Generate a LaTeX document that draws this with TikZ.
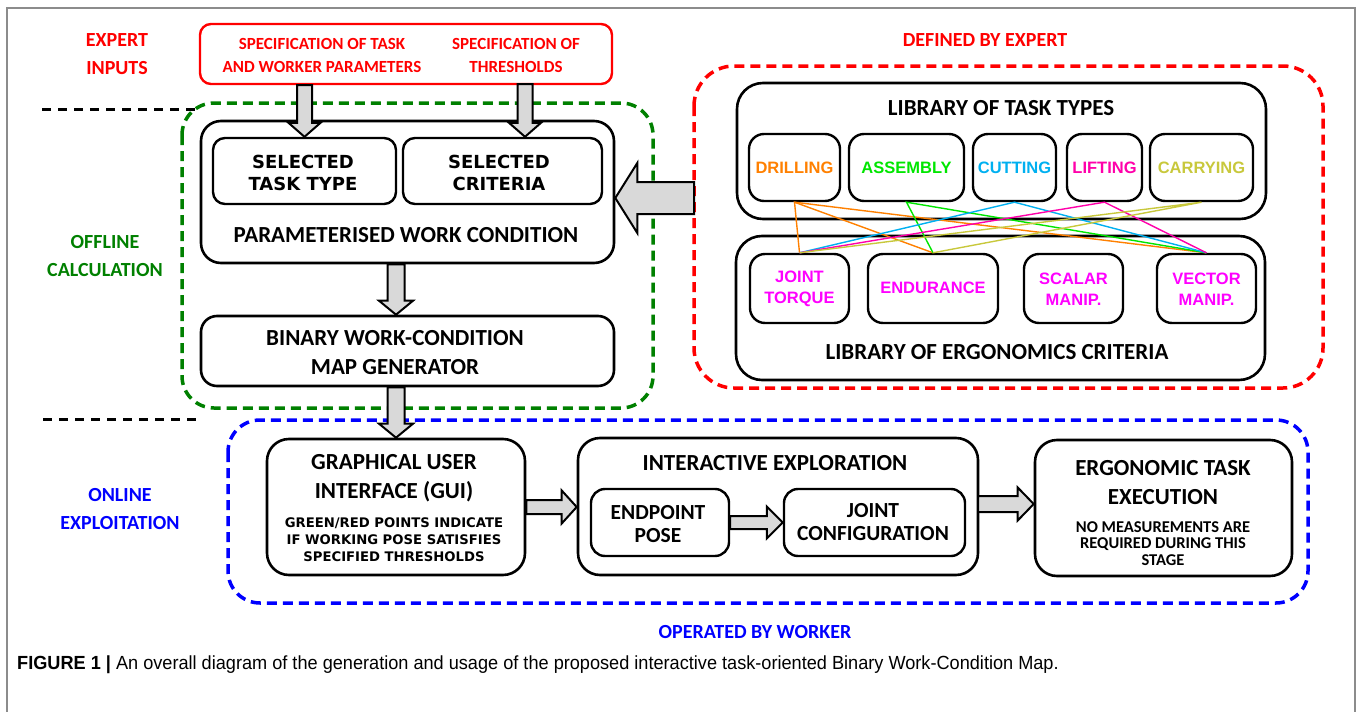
\documentclass[tikz,border=0pt]{standalone}
\usepackage{fontspec}
\setmainfont{Carlito}
\newfontfamily\verd{DejaVu Sans}
\newfontfamily\arl{Liberation Sans}
\newfontfamily\capf[FakeStretch=0.955]{Liberation Sans}
\usetikzlibrary{calc}
\definecolor{cOrange}{RGB}{255,128,0}
\definecolor{cGreen}{RGB}{0,230,0}
\definecolor{cBlue}{RGB}{0,176,240}
\definecolor{cPink}{RGB}{255,0,170}
\definecolor{cOlive}{RGB}{200,200,60}
\definecolor{cMag}{RGB}{255,0,255}
\definecolor{cRed}{RGB}{255,0,0}
\definecolor{cDGreen}{RGB}{0,128,0}
\definecolor{cDBlue}{RGB}{0,0,255}
\definecolor{cArrow}{RGB}{217,217,217}
\definecolor{cFrame}{RGB}{140,140,140}
\newcommand\blockarr[5]{%
  \coordinate (bah) at ($(#2)!#5!(#1)$);
  \draw[barr] ($(#1)!#3!90:(#2)$) -- ($(bah)!#3!-90:(#1)$) -- ($(bah)!#4!-90:(#1)$) -- (#2) -- ($(bah)!#4!90:(#1)$) -- ($(bah)!#3!90:(#1)$) -- ($(#1)!#3!-90:(#2)$) -- cycle;}
\begin{document}
\begin{tikzpicture}[x=1pt,y=-1pt,
  box/.style={draw, line width=2.6pt, rounded corners=16pt, inner sep=0pt},
  sbox/.style={draw, line width=2.4pt, rounded corners=12pt, inner sep=0pt},
  dbox/.style={line width=3.5pt, dash pattern=on 10pt off 6pt, rounded corners=32pt},
  sepline/.style={line width=3pt, dash pattern=on 9pt off 7pt},
  barr/.style={draw=black, fill=cArrow, line width=2pt, line join=miter},
  txt/.style={inner sep=0pt, align=center},
  tBig/.style={txt, font=\fontsize{23}{29}\selectfont\bfseries},
  tSide/.style={txt, font=\fontsize{20}{28}\selectfont\bfseries},
  tSpec/.style={txt, font=\fontsize{17}{23}\selectfont\bfseries, text=cRed},
  tVerd/.style={txt, font=\verd\bfseries\fontsize{18}{22}\selectfont},
  tVsm/.style={txt, font=\verd\bfseries\fontsize{13.2}{17}\selectfont},
  tAr/.style={txt, font=\arl\bfseries\fontsize{16.5}{21.5}\selectfont},
  tMed/.style={txt, font=\fontsize{21.5}{22.5}\selectfont\bfseries},
  tNo/.style={txt, font=\fontsize{16.5}{16.7}\selectfont\bfseries},
  link/.style={line width=1.4pt}
]
\useasboundingbox (0,0) rectangle (1358,712);
% outer frame
\draw[cFrame, line width=1.5pt] (7,712) -- (7,8) -- (1355,8) -- (1355,712);

% group boxes
\draw[dbox, draw=cDGreen] (182,103) rectangle (653,408);
\draw[dbox, draw=cRed, rounded corners=40pt] (694,66) rectangle (1323,388);
\draw[dbox, draw=cDBlue] (228,420) rectangle (1308,603);

% separators
\coordinate (s1a) at (42,109); \coordinate (s1b) at (199,109);
\coordinate (s2a) at (43,419); \coordinate (s2b) at (200,419);
\draw[sepline] (s1a) -- (s1b);
\draw[sepline] (s2a) -- (s2b);

% side labels
\node[tSide, text=cRed] (lexp) at (117,54) {EXPERT\\INPUTS};
\node[tSide, text=cDGreen] (loff) at (105,256) {OFFLINE\\CALCULATION};
\node[tSide, text=cDBlue] (lon) at (120,509) {ONLINE\\EXPLOITATION};
\node[tSide, text=cRed] (ldef) at (985,40) {DEFINED BY EXPERT};
\node[tSide, text=cDBlue] (lop) at (755,632) {OPERATED BY WORKER};

% expert inputs box
\node[sbox, draw=cRed, rounded corners=11pt, minimum width=412pt, minimum height=60pt] (redin) at (406,54) {};
\node[tSpec] (spec1) at (322,55.5) {SPECIFICATION OF TASK\\AND WORKER PARAMETERS};
\node[tSpec] (spec2) at (516,55.5) {SPECIFICATION OF\\THRESHOLDS};

% parameterised work condition
\node[box, rounded corners=20pt, minimum width=413pt, minimum height=142pt] (param) at (407.5,192) {};
\node[sbox, minimum width=183pt, minimum height=66pt] (seltask) at (304.5,171) {};
\node[sbox, minimum width=199pt, minimum height=66pt] (selcrit) at (502.5,171) {};
\node[tVerd] (tseltask) at (303,173) {SELECTED\\TASK TYPE};
\node[tVerd] (tselcrit) at (499,173) {SELECTED\\CRITERIA};
\node[tBig] (tparam) at (406,235) {PARAMETERISED WORK CONDITION};

% binary map generator
\node[box, minimum width=413pt, minimum height=70pt] (binary) at (407.5,351) {};
\node[tBig] (tbinary) at (395,353) {BINARY WORK-CONDITION\\MAP GENERATOR};

% libraries
\node[box, rounded corners=26pt, minimum width=529pt, minimum height=136pt] (libtask) at (1001.5,151) {};
\node[tBig] (tlibtask) at (1001,108) {LIBRARY OF TASK TYPES};
\node[sbox, rounded corners=15pt, minimum width=91pt, minimum height=67pt] (drill) at (794.5,167.5) {};
\node[sbox, rounded corners=15pt, minimum width=115pt, minimum height=67pt] (assem) at (906.5,167.5) {};
\node[sbox, rounded corners=15pt, minimum width=83pt, minimum height=67pt] (cut) at (1014.5,167.5) {};
\node[sbox, rounded corners=15pt, minimum width=75pt, minimum height=67pt] (lift) at (1104.5,167.5) {};
\node[sbox, rounded corners=15pt, minimum width=103pt, minimum height=67pt] (carry) at (1201.5,167.5) {};
\node[tAr, text=cOrange] (tdrill) at (794.5,168) {DRILLING};
\node[tAr, text=cGreen] (tassem) at (906.5,168) {ASSEMBLY};
\node[tAr, text=cBlue] (tcut) at (1014.5,168) {CUTTING};
\node[tAr, text=cPink] (tlift) at (1104.5,168) {LIFTING};
\node[tAr, text=cOlive] (tcarry) at (1201.5,168) {CARRYING};

\node[box, rounded corners=26pt, minimum width=529pt, minimum height=144pt] (libcrit) at (1000.5,308) {};
\node[tBig] (tlibcrit) at (997,352) {LIBRARY OF ERGONOMICS CRITERIA};
\node[sbox, rounded corners=15pt, minimum width=99pt, minimum height=69pt] (joint) at (799.5,288.5) {};
\node[sbox, rounded corners=15pt, minimum width=130pt, minimum height=69pt] (endur) at (933,288.5) {};
\node[sbox, rounded corners=15pt, minimum width=99pt, minimum height=69pt] (scalar) at (1073.5,288.5) {};
\node[sbox, rounded corners=15pt, minimum width=99pt, minimum height=69pt] (vector) at (1206.5,288.5) {};
\node[tAr, text=cMag] (tjoint) at (799.5,289) {JOINT\\TORQUE};
\node[tAr, text=cMag] (tendur) at (933,288) {ENDURANCE};
\node[tAr, text=cMag] (tscalar) at (1073.5,289) {SCALAR\\MANIP.};
\node[tAr, text=cMag] (tvector) at (1206.5,289) {VECTOR\\MANIP.};

% online part
\node[box, rounded corners=22pt, minimum width=258pt, minimum height=136pt] (gui) at (396,507) {};
\node[tBig] (tgui) at (394,478) {GRAPHICAL USER\\INTERFACE (GUI)};
\node[tVsm] (tgui2) at (394,539.5) {GREEN/RED POINTS INDICATE\\IF WORKING POSE SATISFIES\\SPECIFIED THRESHOLDS};

\node[box, rounded corners=22pt, minimum width=400pt, minimum height=137pt] (inter) at (778,506.5) {};
\node[tBig] (tinter) at (775,463) {INTERACTIVE EXPLORATION};
\node[sbox, rounded corners=14pt, minimum width=138pt, minimum height=67pt] (endp) at (660,522.5) {};
\node[sbox, rounded corners=14pt, minimum width=181pt, minimum height=67pt] (jconf) at (874.5,522.5) {};
\node[tMed] (tendp) at (658,524) {ENDPOINT\\POSE};
\node[tMed] (tjconf) at (873,522) {JOINT\\CONFIGURATION};

\node[box, rounded corners=22pt, minimum width=257pt, minimum height=136pt] (ergo) at (1163.5,508) {};
\node[tBig] (tergo) at (1163,482.5) {ERGONOMIC TASK\\EXECUTION};
\node[tNo] (tergo2) at (1163,543.5) {NO MEASUREMENTS ARE\\REQUIRED DURING THIS\\STAGE};

% block arrows
\coordinate (a1s) at (seltask.north |- redin.south);
\coordinate (a1e) at (seltask.north);
\coordinate (a2s) at (525,84);
\coordinate (a2e) at (a2s |- selcrit.north);
\blockarr{a1s}{a1e}{7.5pt}{16pt}{14pt}
\blockarr{a2s}{a2e}{7.5pt}{16pt}{14pt}
\coordinate (a3s) at (gui.north |- param.south);
\coordinate (a3e) at (gui.north |- binary.north);
\coordinate (a4s) at (gui.north |- binary.south);
\blockarr{a3s}{a3e}{8.5pt}{17pt}{14pt}
\blockarr{a4s}{gui.north}{8.5pt}{17pt}{14pt}
\coordinate (a5s) at (694,198);
\coordinate (a5e) at (param.east |- a5s);
\blockarr{a5s}{a5e}{16pt}{35pt}{22pt}
\coordinate (a6s) at (gui.east);
\coordinate (a6e) at (inter.west |- gui.east);
\blockarr{a6s}{a6e}{7pt}{16.5pt}{15pt}
\blockarr{endp.east}{jconf.west}{6.5pt}{16pt}{16pt}
\coordinate (a8s) at (978,504);
\coordinate (a8e) at (ergo.west |- a8s);
\blockarr{a8s}{a8e}{8pt}{16.5pt}{16pt}

% task-criteria links
\draw[link, cOrange] (joint.north) -- (drill.south) -- (endur.north);
\draw[link, cOrange] (drill.south) -- (vector.north);
\draw[link, cGreen] (endur.north) -- (assem.south) -- (vector.north);
\draw[link, cBlue] (joint.north) -- (cut.south) -- (vector.north);
\draw[link, cPink] (joint.north) -- (lift.south) -- (vector.north);
\draw[link, cOlive] (joint.north) -- (carry.south) -- (endur.north);

% caption
\node[inner sep=0pt, anchor=west, font=\capf\fontsize{19}{21}\selectfont] (cap) at (17,665) {\textbf{FIGURE 1 |} An overall diagram of the generation and usage of the proposed interactive task-oriented Binary Work-Condition Map.};
\end{tikzpicture}
\end{document}
